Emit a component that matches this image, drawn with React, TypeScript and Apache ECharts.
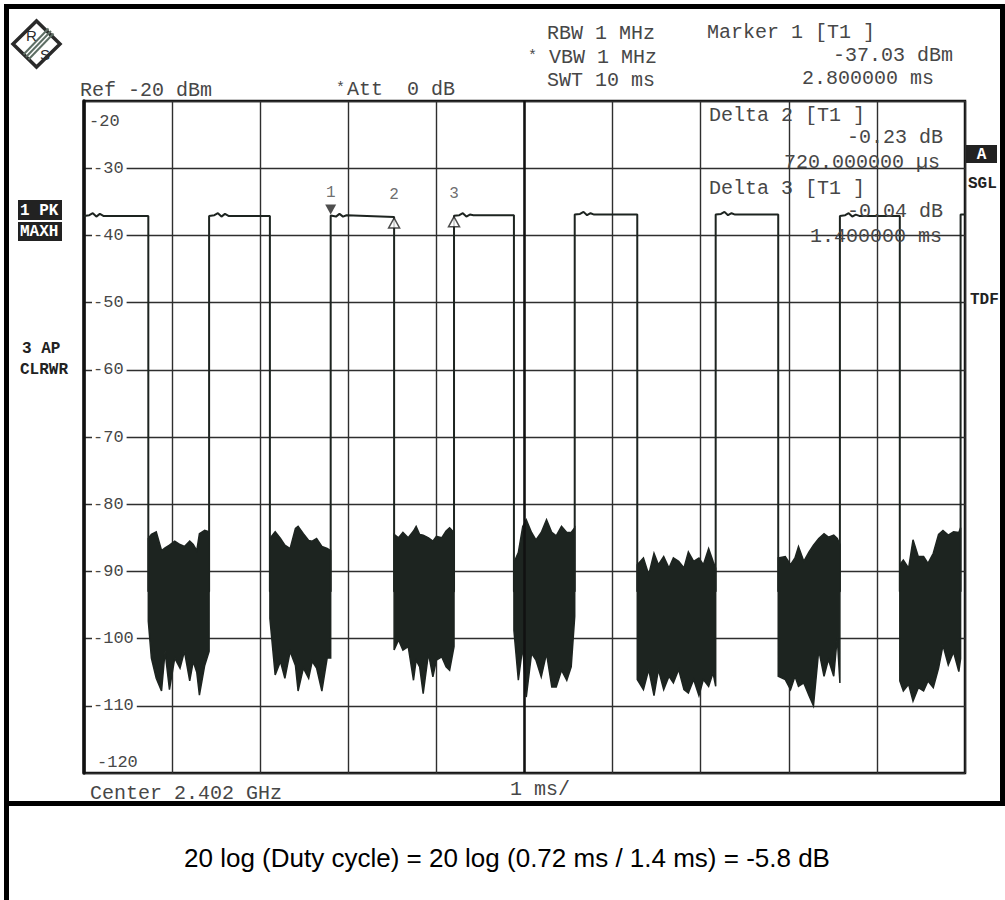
import React, { useEffect, useRef } from "react";
import * as echarts from "echarts";

// ---------- axis scales ----------
const X_MIN_MS = 0;
const X_MAX_MS = 10;
const X_STEP_MS = 1;
const Y_MIN_DBM = -120;
const Y_MAX_DBM = -20;
const Y_STEP_DB = 10;

// ---------- max-hold trace (time ms, level dBm) ----------
const TRACE_POINTS: number[][] = [
  [0, -37.1], [0.06, -37.0], [0.1, -36.7], [0.14, -37.2], [0.18, -36.8], [0.22, -37.1], [0.73, -37.1], [0.73, -93],
  [1.42, -93], [1.42, -37.1], [1.48, -37.0], [1.52, -36.7], [1.56, -37.2], [1.6, -36.8], [1.64, -37.1], [2.11, -37.1], [2.11, -93],
  [2.8, -93], [2.8, -37.03], [2.86, -37.2], [2.9, -36.8], [2.94, -37.2], [2.98, -37.0], [3.52, -37.26], [3.52, -93],
  [4.2, -93], [4.2, -37.07], [4.26, -37.0], [4.3, -36.7], [4.34, -37.2], [4.38, -36.9], [4.42, -37.0], [4.88, -37.0], [4.88, -93],
  [5.57, -93], [5.57, -36.9], [5.63, -36.8], [5.67, -36.5], [5.71, -37.0], [5.75, -36.7], [5.79, -36.9], [6.28, -36.9], [6.28, -93],
  [7.17, -93], [7.17, -36.9], [7.23, -36.8], [7.27, -36.5], [7.31, -37.0], [7.35, -36.7], [7.39, -36.9], [7.88, -36.9], [7.88, -93],
  [8.58, -93], [8.58, -37.1], [8.64, -37.0], [8.68, -36.7], [8.72, -37.2], [8.76, -36.9], [8.8, -37.1], [9.26, -37.1], [9.26, -93],
  [9.95, -93], [9.95, -36.9], [10, -36.9],
];

// ---------- noise floor bursts between pulses: [time ms, upper envelope dBm, lower envelope dBm] ----------
const NOISE_BLOCK_1: number[][] = [
  [0.73, -85.1, -97.4], [0.765, -84.5, -102.9], [0.82, -84.1, -105.9], [0.88, -86.9, -107.8],
  [0.92, -86.5, -101.9], [0.97, -86.1, -107.6], [1.03, -85.5, -102.9], [1.09, -86.0, -104.4],
  [1.14, -86.3, -101.9], [1.2, -85.5, -106.3], [1.24, -86.0, -103.4], [1.28, -86.9, -105.0],
  [1.31, -84.4, -108.4], [1.37, -83.9, -104.0], [1.42, -84.1, -101.9],
];
const NOISE_BLOCK_2: number[][] = [
  [2.11, -85.1, -97.0], [2.17, -84.1, -105.4], [2.23, -85.1, -103.4], [2.28, -86.1, -105.9],
  [2.34, -86.6, -101.9], [2.4, -83.6, -104.0], [2.43, -83.3, -107.8], [2.49, -84.4, -104.4],
  [2.55, -85.4, -105.9], [2.59, -85.5, -103.4], [2.64, -85.1, -104.4], [2.7, -86.3, -107.8],
  [2.76, -86.6, -102.9], [2.8, -86.9, -102.9],
];
const NOISE_BLOCK_3: number[][] = [
  [3.52, -84.5, -101.7], [3.57, -85.0, -100.2], [3.62, -84.2, -101.7], [3.68, -85.0, -101.2],
  [3.74, -84.0, -106.2], [3.77, -83.3, -103.2], [3.81, -84.5, -104.2], [3.85, -84.6, -108.2],
  [3.91, -85.0, -102.2], [3.96, -85.5, -105.7], [4.0, -84.8, -103.2], [4.06, -85.0, -102.7],
  [4.11, -84.0, -104.2], [4.15, -83.5, -104.7], [4.2, -84.2, -101.2],
];
const NOISE_BLOCK_4: number[][] = [
  [4.88, -88.7, -98.8], [4.93, -87.2, -106.2], [4.98, -83.3, -101.2], [5.02, -82.3, -108.7],
  [5.08, -84.2, -102.2], [5.13, -85.3, -103.2], [5.19, -84.2, -105.7], [5.25, -82.3, -102.2],
  [5.31, -84.2, -107.2], [5.36, -84.7, -107.2], [5.42, -83.3, -104.7], [5.48, -84.2, -106.2],
  [5.53, -84.2, -104.2], [5.57, -83.5, -96.7],
];
const NOISE_BLOCK_5: number[][] = [
  [6.28, -89.0, -106.1], [6.35, -88.0, -107.6], [6.41, -90.5, -104.6], [6.47, -87.3, -108.5],
  [6.52, -89.0, -104.6], [6.58, -87.8, -107.6], [6.64, -89.5, -105.6], [6.69, -88.0, -106.6],
  [6.75, -88.5, -104.6], [6.81, -89.5, -107.6], [6.86, -87.1, -108.1], [6.92, -88.5, -106.1],
  [6.98, -88.0, -108.5], [7.03, -89.0, -106.1], [7.09, -86.6, -107.1], [7.14, -88.5, -105.1],
  [7.17, -89.5, -107.1],
];
const NOISE_BLOCK_6: number[][] = [
  [7.88, -88.0, -105.6], [7.96, -87.8, -106.1], [8.02, -89.0, -107.6], [8.07, -88.0, -105.6],
  [8.11, -86.3, -107.1], [8.17, -88.5, -106.6], [8.23, -87.1, -108.5], [8.28, -86.1, -110.0],
  [8.34, -85.1, -101.7], [8.4, -84.4, -105.6], [8.45, -84.9, -103.1], [8.51, -84.6, -105.6],
  [8.55, -85.1, -99.8], [8.58, -86.0, -106.6],
];
const NOISE_BLOCK_7: number[][] = [
  [9.26, -89.0, -106.3], [9.3, -88.3, -107.8], [9.36, -89.5, -106.8], [9.41, -85.3, -109.3],
  [9.47, -87.8, -107.3], [9.53, -87.8, -107.8], [9.58, -88.8, -106.3], [9.64, -87.3, -107.3],
  [9.7, -84.5, -104.4], [9.75, -83.9, -101.0], [9.81, -84.6, -103.9], [9.87, -84.1, -102.0],
  [9.93, -84.2, -104.9], [9.95, -83.5, -103.0],
];
const NOISE_BLOCKS = [
  NOISE_BLOCK_1, NOISE_BLOCK_2, NOISE_BLOCK_3, NOISE_BLOCK_4, NOISE_BLOCK_5, NOISE_BLOCK_6, NOISE_BLOCK_7,
];

// ---------- markers ----------
const MARKER_NAMES = ["1", "2", "3"];
const MARKER_TIMES_MS = [2.8, 3.52, 4.2];
const MARKER_LEVELS_DBM = [-37.03, -37.26, -37.07];

// ---------- annotation texts ----------
const HEADER_LEFT = ["Ref -20 dBm", "Att  0 dB"];
const HEADER_MID = ["RBW 1 MHz", "VBW 1 MHz", "SWT 10 ms"];
const MARKER_1_TEXT = ["Marker 1 [T1 ]", "-37.03 dBm", "2.800000 ms"];
const DELTA_2_TEXT = ["Delta 2 [T1 ]", "-0.23 dB", "720.000000 µs"];
const DELTA_3_TEXT = ["Delta 3 [T1 ]", "-0.04 dB", "1.400000 ms"];
const SIDE_LEFT = ["1 PK", "MAXH", "3 AP", "CLRWR"];
const SIDE_RIGHT = ["A", "SGL", "TDF"];
const FOOTER = ["Center 2.402 GHz", "1 ms/"];
const CAPTION = "20 log (Duty cycle) = 20 log (0.72 ms / 1.4 ms) = -5.8 dB";

const MONO = "'Liberation Mono', 'DejaVu Sans Mono', monospace";
const GREY = "#474747";
const INK = "#1d2420";

const GRID = { left: 84, top: 101, width: 881, height: 672 };

function txt(text: string, x: number, y: number, size: number, opts: any = {}) {
  return {
    type: "text",
    z: 50,
    style: {
      text,
      x,
      y,
      font: `${opts.bold ? "bold " : ""}${size}px ${opts.family || MONO}`,
      fill: opts.fill || GREY,
      textAlign: opts.align || "left",
      align: opts.align || "left",
      textVerticalAlign: "middle",
      verticalAlign: "middle",
    },
  };
}

function rect(x: number, y: number, w: number, h: number, fill = "#000") {
  return { type: "rect", z: 40, shape: { x, y, width: w, height: h }, style: { fill } };
}

export default function App() {
  const ref = useRef<HTMLDivElement>(null);

  useEffect(() => {
    if (!ref.current) return;
    const chart = echarts.init(ref.current, undefined, { renderer: "svg" });

    const graphic: any[] = [
      // outer frame
      rect(4, 4, 5, 896),
      rect(4, 4, 1001, 5),
      rect(1000, 4, 5, 802),
      rect(4, 801, 1001, 5),
      // logo
      {
        type: "polygon",
        z: 40,
        shape: { points: [[13, 44], [36.5, 21], [60, 44], [36.5, 67]] },
        style: { fill: "#fff", stroke: "#2a2a2a", lineWidth: 3.5 },
      },
      { type: "line", z: 41, shape: { x1: 51, y1: 31, x2: 26, y2: 57 }, style: { stroke: "#5d6e64", lineWidth: 2 } },
      { type: "line", z: 41, shape: { x1: 53.5, y1: 33.5, x2: 28.5, y2: 59.5 }, style: { stroke: "#5d6e64", lineWidth: 2 } },
      { type: "line", z: 41, shape: { x1: 48.5, y1: 28.5, x2: 23.5, y2: 54.5 }, style: { stroke: "#5d6e64", lineWidth: 2 } },
      txt("R", 26, 35, 15, { family: "'Liberation Sans', sans-serif", fill: "#2a2a2a" }),
      txt("S", 40, 54, 15, { family: "'Liberation Sans', sans-serif", fill: "#2a2a2a" }),
      // header
      txt(HEADER_LEFT[0], 80, 90, 20),
      txt("*", 336, 88, 15),
      txt(HEADER_LEFT[1], 347, 89, 20),
      txt(HEADER_MID[0], 547, 33, 20),
      txt("*", 528, 56, 15),
      txt(HEADER_MID[1], 549, 57, 20),
      txt(HEADER_MID[2], 547, 80, 20),
      txt(MARKER_1_TEXT[0], 707, 32, 20),
      txt(MARKER_1_TEXT[1], 833, 55, 20),
      txt(MARKER_1_TEXT[2], 802, 78, 20),
      // delta marker info inside the plot
      txt(DELTA_2_TEXT[0], 709, 115, 20),
      txt(DELTA_2_TEXT[1], 847, 137, 20),
      txt(DELTA_2_TEXT[2], 784, 162, 20),
      txt(DELTA_3_TEXT[0], 709, 188, 20),
      txt(DELTA_3_TEXT[1], 847, 211, 20),
      txt(DELTA_3_TEXT[2], 810, 236, 20),
      // y extreme labels
      txt(String(Y_MAX_DBM), 89, 121, 17),
      txt(String(Y_MIN_DBM), 97, 762, 17),
      // left side
      rect(18, 200, 44, 20, "#222"),
      txt(SIDE_LEFT[0], 20, 210.5, 16, { bold: true, fill: "#fff" }),
      rect(18, 222, 44, 19, "#222"),
      txt(SIDE_LEFT[1], 20, 232, 16, { bold: true, fill: "#fff" }),
      txt(SIDE_LEFT[2], 22, 349, 16, { bold: true, fill: "#222" }),
      txt(SIDE_LEFT[3], 20, 370, 16, { bold: true, fill: "#222" }),
      // right side
      rect(966, 145, 31, 18, "#222"),
      txt(SIDE_RIGHT[0], 981.5, 154.5, 16, { bold: true, fill: "#fff", align: "center" }),
      txt(SIDE_RIGHT[1], 968, 184, 16, { bold: true, fill: "#222" }),
      txt(SIDE_RIGHT[2], 970, 300, 16, { bold: true, fill: "#222" }),
      // footer
      txt(FOOTER[0], 90, 793, 20),
      txt(FOOTER[1], 510, 789, 20),
      txt(CAPTION, 507, 858, 26, { family: "'Liberation Sans', Arial, sans-serif", fill: "#000", align: "center" }),
    ];

    chart.setOption({
      animation: false,
      backgroundColor: "#fff",
      grid: {
        left: GRID.left,
        top: GRID.top,
        width: GRID.width,
        height: GRID.height,
        show: true,
        borderColor: "#111",
        borderWidth: 2.5,
        backgroundColor: "#fff",
      },
      xAxis: {
        type: "value",
        min: X_MIN_MS,
        max: X_MAX_MS,
        interval: X_STEP_MS,
        axisLine: { show: false },
        axisTick: { show: false },
        axisLabel: { show: false },
        splitLine: { show: true, lineStyle: { color: "#2e2e2e", width: 1.4 } },
      },
      yAxis: {
        type: "value",
        min: Y_MIN_DBM,
        max: Y_MAX_DBM,
        interval: Y_STEP_DB,
        axisLine: { show: true, onZero: false, lineStyle: { color: "#111", width: 3.5 } },
        axisTick: { show: false },
        splitLine: { show: true, lineStyle: { color: "#2e2e2e", width: 1.4 } },
        axisLabel: {
          inside: true,
          margin: 8,
          showMinLabel: false,
          showMaxLabel: false,
          color: GREY,
          fontFamily: MONO,
          fontSize: 17,
          backgroundColor: "#fff",
          padding: [1, 3, 1, 1],
        },
      },
      graphic,
      series: [
        {
          type: "line",
          name: "trace",
          data: TRACE_POINTS,
          showSymbol: false,
          symbol: "none",
          z: 3,
          lineStyle: { color: INK, width: 2 },
          markLine: {
            silent: true,
            symbol: ["none", "none"],
            label: { show: false },
            lineStyle: { color: "#111", width: 2.5, type: "solid" },
            data: [{ xAxis: (X_MIN_MS + X_MAX_MS) / 2 }],
          },
        },
        {
          type: "custom",
          name: "noise",
          data: NOISE_BLOCKS.map((_, i) => [i]),
          clip: true,
          z: 4,
          renderItem: (params: any, api: any) => {
            const block = NOISE_BLOCKS[params.dataIndex];
            const top = block.map((p) => api.coord([p[0], p[1]]));
            const bot = block
              .slice()
              .reverse()
              .map((p) => api.coord([p[0], p[2]]));
            return {
              type: "polygon",
              shape: { points: top.concat(bot) },
              style: { fill: INK, stroke: INK, lineWidth: 1.5, lineJoin: "miter" },
            };
          },
        },
        {
          type: "scatter",
          name: "markers",
          z: 5,
          data: MARKER_NAMES.map((n, i) => ({
            value: [MARKER_TIMES_MS[i], MARKER_LEVELS_DBM[i]],
            symbol: "triangle",
            symbolSize: [11, 10],
            symbolRotate: i === 0 ? 180 : 0,
            symbolOffset: i === 0 ? [0, -6] : [0, 6],
            itemStyle:
              i === 0
                ? { color: "#222" }
                : { color: "#fff", borderColor: "#222", borderWidth: 1.5 },
          })),
        },
        {
          type: "scatter",
          name: "marker labels",
          z: 6,
          symbol: "circle",
          symbolSize: 1,
          itemStyle: { color: "rgba(0,0,0,0)" },
          label: {
            show: true,
            position: "inside",
            offset: [0, -22],
            color: GREY,
            fontFamily: MONO,
            fontSize: 16,
            formatter: (p: any) => MARKER_NAMES[p.dataIndex],
          },
          data: MARKER_NAMES.map((_, i) => [MARKER_TIMES_MS[i], MARKER_LEVELS_DBM[i]]),
        },
      ],
    });

    return () => chart.dispose();
  }, []);

  return (
    <div
      ref={ref}
      style={{ position: "fixed", left: 0, top: 0, width: 1005, height: 900, background: "#fff" }}
    />
  );
}
